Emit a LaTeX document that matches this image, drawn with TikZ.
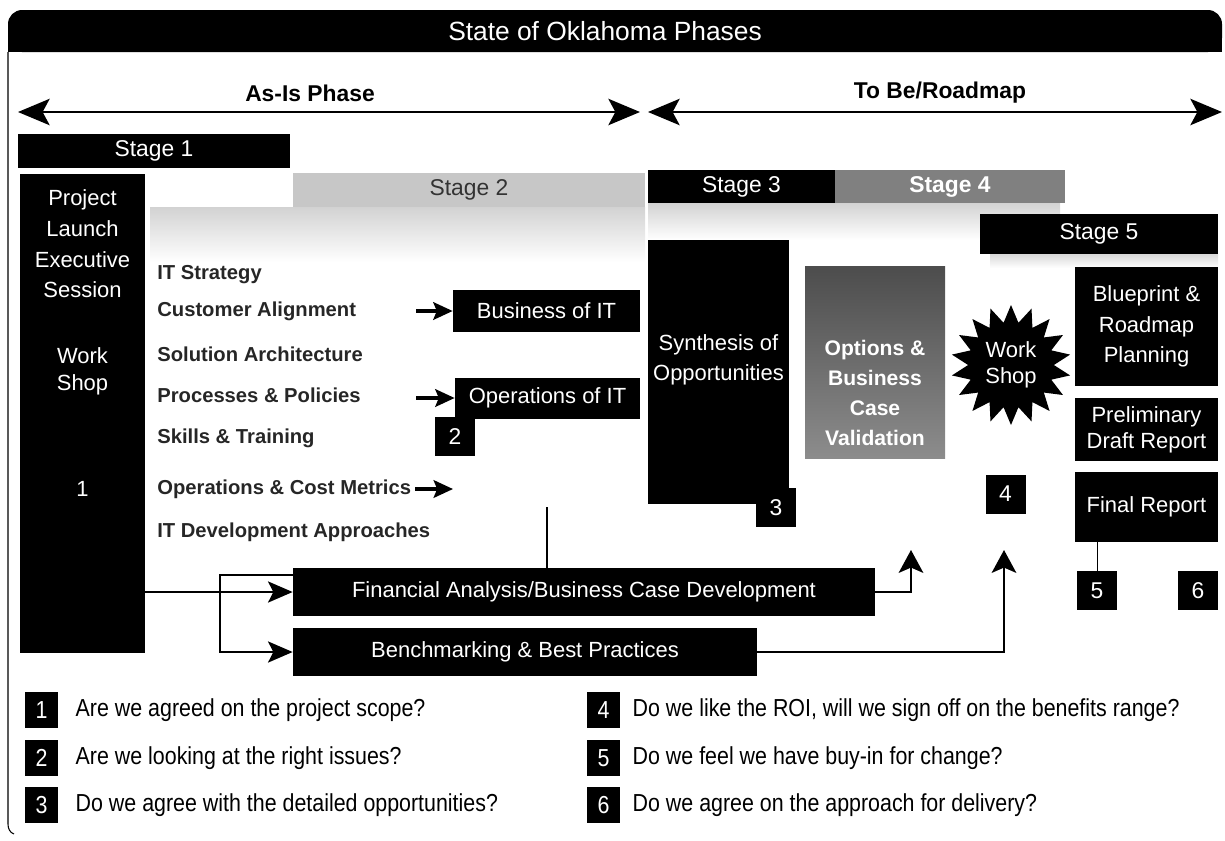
\documentclass[tikz,border=0pt]{standalone}
\usepackage{fontspec}
\setmainfont{Liberation Sans}
\newfontfamily\narrowfont{Liberation Sans}[FakeStretch=0.87]
\usetikzlibrary{arrows.meta, shapes.geometric, positioning}
\newcommand{\ttlfont}{\fontsize{15}{18}\selectfont}
\newcommand{\phsfont}{\bfseries\fontsize{13}{16}\selectfont}
\newcommand{\stgfont}{\fontsize{13}{16}\selectfont}
\newcommand{\bxfont}{\fontsize{12.5}{17}\selectfont}
\newcommand{\itmfont}{\bfseries\fontsize{11.5}{14}\selectfont}
\newcommand{\optsfont}{\bfseries\fontsize{12}{17}\selectfont}
\newcommand{\nmfont}{\fontsize{13}{16}\selectfont}
\newcommand{\lgfont}{\narrowfont\fontsize{14}{17}\selectfont}
\tikzset{
  sz/.style 2 args={minimum width=#1*0.02cm, minimum height=#2*0.02cm},
  blk/.style={fill=black, text=white, inner sep=0pt, align=center, font=\bxfont},
  wtxt/.style={text=white, inner sep=0pt, align=center, font=\bxfont},
  numbox/.style={blk, sz={40}{39}, font=\nmfont},
  legnum/.style={blk, sz={33}{36}, font=\lgfont},
  legtxt/.style={anchor=west, inner sep=0pt, font=\lgfont},
  item/.style={anchor=west, inner sep=0pt, font=\itmfont, text=black!85},
  phase/.style={line width=1.4pt, {Stealth[length=18pt, width=15pt, inset=4pt]}-{Stealth[length=18pt, width=15pt, inset=4pt]}},
  phaselbl/.style={font=\phsfont, inner sep=0pt},
  conn/.style={line width=1.3pt},
  tipc/.style={-{Stealth[length=14pt, width=12pt, inset=3pt]}},
  tipup/.style={-{Stealth[length=13pt, width=14pt, inset=3pt]}},
  itemarrow/.style={line width=2pt, -{Stealth[length=11pt, width=10pt, inset=2pt]}}
}

\begin{document}
\begin{tikzpicture}[x=0.02cm, y=-0.02cm, >=Stealth]
  \useasboundingbox (0,0) rectangle (1225,840);
  % frame and title bar
  \fill[rounded corners=8pt] (8,10) rectangle (1222,52);
  \fill (8,32) rectangle (1222,52);
  \draw[line width=0.6pt] (8,52) -- (8,824) to[out=-90,in=160] (14,834);
  \node[font=\ttlfont, text=white] (title) at (605,31) {State of Oklahoma Phases};
  % phases
  \coordinate (asisL) at (18,112);
  \coordinate (asisR) at (640,112);
  \coordinate (tobeL) at (648,112);
  \coordinate (tobeR) at (1222,112);
  \draw[phase] (asisL) -- (asisR);
  \draw[phase] (tobeL) -- (tobeR);
  \node[phaselbl] (asis) at (310,93) {As-Is Phase};
  \node[phaselbl] (tobe) at (940,93) {To Be/Roadmap};
  % shaded bands
  \shade[top color=gray!35, bottom color=white] (150,207) rectangle (645,262);
  \shade[top color=gray!35, bottom color=white] (648,203) rectangle (1060,240);
  \shade[top color=gray!30, bottom color=white] (990,254) rectangle (1218,268);
  % stages
  \node[blk, sz={272}{34}, font=\stgfont] (stage1) at (154,151) {Stage 1};
  \node[sz={352}{34}, fill=black!22, text=black!80, inner sep=0pt, font=\stgfont] (stage2) at (469,190) {Stage 2};
  \node[blk, sz={187}{33}, font=\stgfont] (stage3) at (741.5,186.5) {Stage 3};
  \node[sz={230}{33}, fill=black!50, text=white, inner sep=0pt, font=\bfseries\stgfont] (stage4) at (950,186.5) {Stage 4};
  \node[blk, sz={238}{40}, font=\stgfont] (stage5) at (1099,234) {Stage 5};
  % stage 1
  \node[blk, sz={125}{479}] (launch) at (82.5,413.5) {};
  \node[wtxt, font=\fontsize{12.5}{17.5}\selectfont] (launchtxt) at (82.5,244) {Project\\Launch\\Executive\\Session};
  \node[wtxt, font=\fontsize{12.5}{15.5}\selectfont] (launchws) at (82.5,371) {Work\\Shop};
  \node[wtxt] (launchnum) at (82.5,489) {1};
  % stage 2
  \node[item] (itstrat) at (157,275) {IT Strategy};
  \node[item] (custalign) at (157,311) {Customer Alignment};
  \node[item] (solarch) at (157,354) {Solution Architecture};
  \node[item] (procpol) at (157,395) {Processes \& Policies};
  \node[item] (skills) at (157,438) {Skills \& Training};
  \node[item] (opscost) at (157,489) {Operations \& Cost Metrics};
  \node[item] (itdev) at (157,532) {IT Development Approaches};
  \node[blk, sz={187}{42}] (biz) at (546.5,311) {Business of IT};
  \node[blk, sz={185}{41}] (ops) at (547.5,398) {Operations of IT};
  \node[numbox] (num2) at (455,436.5) {2};
  \coordinate (bizfrom) at (416,311);
  \coordinate (opsfrom) at (416,398);
  \coordinate (costfrom) at (415,489);
  \coordinate (costto) at (453,489);
  \draw[itemarrow] (bizfrom) -- (biz.west);
  \draw[itemarrow] (opsfrom) -- (ops.west);
  \draw[itemarrow] (costfrom) -- (costto);
  % analysis bars
  \node[blk, sz={582}{48}] (fin) at (584,592) {Financial Analysis/Business Case Development};
  \node[blk, sz={464}{48}] (bench) at (525,652) {Benchmarking \& Best Practices};
  \coordinate (vtop) at (547,507);
  \coordinate (brk) at (220,575);
  \coordinate (optsin) at (911,550);
  \coordinate (wsin) at (1004,550);
  \draw[conn] (vtop) -- (vtop |- fin.north);
  \draw[conn, tipc] (launch.east |- fin.west) -- (fin.west);
  \draw[conn, tipc] (brk -| fin.west) -- (brk) |- (bench.west);
  \draw[conn, tipup] (fin.east) -| (optsin);
  \draw[conn, tipup] (bench.east) -| (wsin);
  % stages 3 and 4
  \node[blk, sz={141}{264}] (synth) at (718.5,372) {};
  \node[wtxt] (synthtxt) at (718.5,360) {Synthesis of\\Opportunities};
  \node[numbox] (num3) at (776,507.5) {3};
  \node[sz={140}{192}, top color=black!70, bottom color=black!45, inner sep=0pt] (opts) at (875,362) {};
  \node[wtxt, font=\optsfont] (optstxt) at (875,393) {Options \&\\Business\\Case\\Validation};
  \node[star, star points=18, star point ratio=1.4, minimum size=120*0.02cm, fill=black, text=white, inner sep=0pt, align=center, font=\fontsize{12.5}{15}\selectfont] (ws) at (1011,365) {Work\\Shop};
  \node[numbox] (num4) at (1005.5,494) {4};
  % stage 5
  \node[blk, sz={143}{119}, font=\fontsize{12.5}{17.5}\selectfont] (blueprint) at (1146.5,326.5) {Blueprint \&\\Roadmap\\Planning};
  \node[blk, sz={143}{63}, font=\fontsize{12.5}{15}\selectfont] (prelim) at (1146.5,429.5) {Preliminary\\Draft Report};
  \node[blk, sz={143}{70}] (final) at (1146.5,507) {Final Report};
  \node[numbox] (num5) at (1097,590.5) {5};
  \node[numbox] (num6) at (1198,590.5) {6};
  \draw[line width=0.4pt] (final.south -| num5.north) -- (num5.north);
  % questions
  \node[legnum] (leg1) at (41.5,710) {1};
  \node[legnum] (leg2) at (41.5,758) {2};
  \node[legnum] (leg3) at (41.5,805) {3};
  \node[legnum] (leg4) at (603.5,710) {4};
  \node[legnum] (leg5) at (603.5,758) {5};
  \node[legnum] (leg6) at (603.5,805) {6};
  \node[legtxt, right=0.34cm of leg1] (q1) {Are we agreed on the project scope?};
  \node[legtxt, right=0.34cm of leg2] (q2) {Are we looking at the right issues?};
  \node[legtxt, right=0.34cm of leg3] (q3) {Do we agree with the detailed opportunities?};
  \node[legtxt, right=0.24cm of leg4] (q4) {Do we like the ROI, will we sign off on the benefits range?};
  \node[legtxt, right=0.24cm of leg5] (q5) {Do we feel we have buy-in for change?};
  \node[legtxt, right=0.24cm of leg6] (q6) {Do we agree on the approach for delivery?};
\end{tikzpicture}
\end{document}
